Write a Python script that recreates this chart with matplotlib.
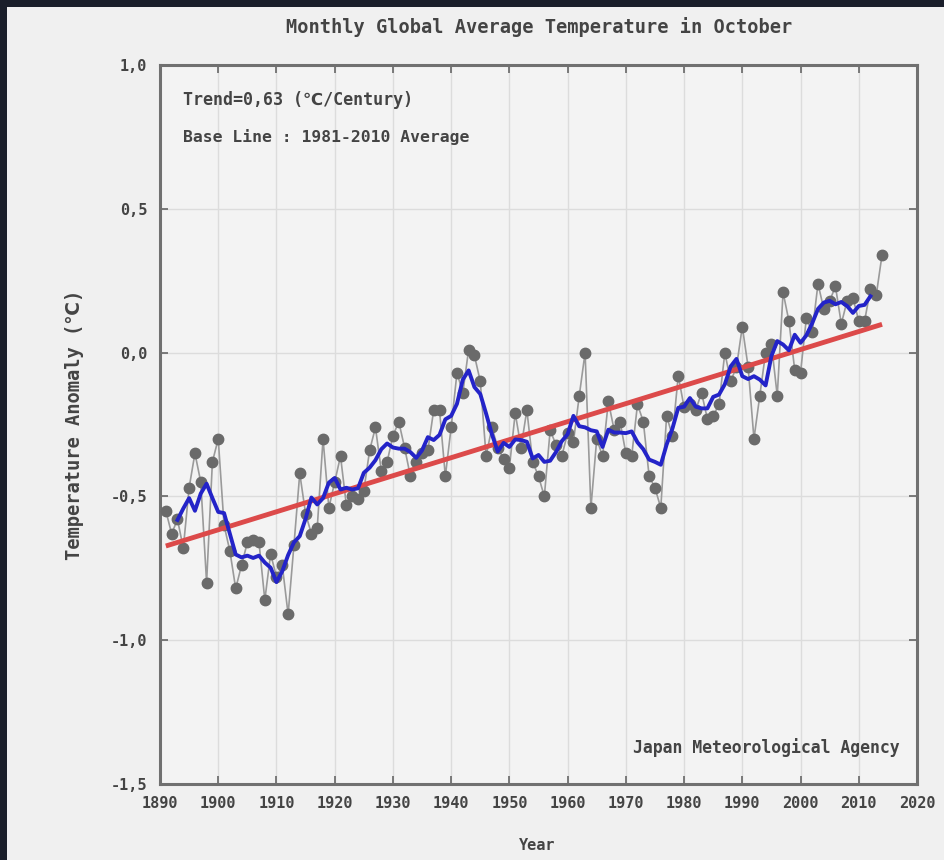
import numpy as np
import matplotlib
matplotlib.use("Agg")
import matplotlib.pyplot as plt
from matplotlib.patches import Rectangle

# ---- data ----
start_year = 1891
anomaly = [
    -0.55, -0.63, -0.58, -0.68, -0.47, -0.35, -0.45, -0.80, -0.38, -0.30,  # 1891-1900
    -0.60, -0.69, -0.82, -0.74, -0.66, -0.65, -0.66, -0.86, -0.70, -0.78,  # 1901-1910
    -0.74, -0.91, -0.67, -0.42, -0.56, -0.63, -0.61, -0.30, -0.54, -0.45,  # 1911-1920
    -0.36, -0.53, -0.50, -0.51, -0.48, -0.34, -0.26, -0.41, -0.38, -0.29,  # 1921-1930
    -0.24, -0.33, -0.43, -0.38, -0.35, -0.34, -0.20, -0.20, -0.43, -0.26,  # 1931-1940
    -0.07, -0.14, 0.01, -0.01, -0.10, -0.36, -0.26, -0.33, -0.37, -0.40,   # 1941-1950
    -0.21, -0.33, -0.20, -0.38, -0.43, -0.50, -0.27, -0.32, -0.36, -0.28,  # 1951-1960
    -0.31, -0.15, 0.00, -0.54, -0.30, -0.36, -0.17, -0.27, -0.24, -0.35,   # 1961-1970
    -0.36, -0.18, -0.24, -0.43, -0.47, -0.54, -0.22, -0.29, -0.08, -0.19,  # 1971-1980
    -0.18, -0.20, -0.14, -0.23, -0.22, -0.18, 0.00, -0.10, -0.05, 0.09,    # 1981-1990
    -0.05, -0.30, -0.15, 0.00, 0.03, -0.15, 0.21, 0.11, -0.06, -0.07,      # 1991-2000
    0.12, 0.07, 0.24, 0.15, 0.18, 0.23, 0.10, 0.18, 0.19, 0.11,            # 2001-2010
    0.11, 0.22, 0.20, 0.34,                                                # 2011-2014
]
years = np.arange(start_year, start_year + len(anomaly))
values = np.array(anomaly)

x_ticks = [1890, 1900, 1910, 1920, 1930, 1940, 1950, 1960, 1970, 1980, 1990, 2000, 2010, 2020]
y_ticks = [1.0, 0.5, 0.0, -0.5, -1.0, -1.5]
y_tick_labels = ["1,0", "0,5", "0,0", "-0,5", "-1,0", "-1,5"]

title = "Monthly Global Average Temperature in October"
trend_text = "Trend=0,63 (\u2103/Century)"
base_text = "Base Line : 1981-2010 Average"
source_text = "Japan Meteorological Agency"
y_label = "Temperature Anomaly (\u2103)"
x_label = "Year"

# derived series
window = 5
run_mean = np.convolve(values, np.ones(window) / window, mode="valid")
run_years = years[window // 2: len(years) - window // 2]
coef = np.polyfit(years, values, 1)
trend = np.polyval(coef, years)

# ---- drawing ----
W, H = 945, 860
fig = plt.figure(figsize=(W / 100, H / 100), dpi=100)
fig.patch.set_facecolor("#1b1f2b")
fig.add_artist(Rectangle((7 / W, 0), 1 - 7 / W, (H - 7) / H, transform=fig.transFigure,
                         facecolor="#f0f0f0", edgecolor="none", zorder=0))

fam = ["DejaVu Sans Mono", "DejaVu Sans"]
tc = "#444444"

ax = fig.add_axes([160 / W, 1 - 784 / H, (917 - 160) / W, (784 - 65) / H])
ax.set_facecolor("#f3f3f3")
ax.set_xlim(1890, 2020)
ax.set_ylim(-1.5, 1.0)

ax.set_xticks(x_ticks)
ax.set_xticklabels([str(t) for t in x_ticks], family=fam, fontsize=11, color=tc, fontweight="bold")
ax.set_yticks(y_ticks)
ax.set_yticklabels(y_tick_labels, family=fam, fontsize=11, color=tc, fontweight="bold")
ax.tick_params(direction="in", length=6, width=1.2, color="#666666",
               top=True, right=True, pad=9)
ax.grid(True, color="#dcdcdc", linewidth=1.0)
ax.set_axisbelow(True)
for s in ax.spines.values():
    s.set_color("#707070")
    s.set_linewidth(2.2)

ax.plot(years, values, color="#9a9a9a", linewidth=1.2, zorder=2)
ax.plot(years, values, linestyle="none", marker="o", markersize=7.5,
        markerfacecolor="#6a6a6a", markeredgecolor="#6a6a6a", zorder=3)
ax.plot(years, trend, color="#dc4a4a", linewidth=3.5, zorder=4, solid_capstyle="butt")
ax.plot(run_years, run_mean, color="#2323c8", linewidth=2.8, zorder=5)

ax.text(183 / W, 1 - 100 / H, trend_text, transform=fig.transFigure, family=fam,
        fontsize=12, color=tc, fontweight="bold", va="center", ha="left")
ax.text(183 / W, 1 - 137 / H, base_text, transform=fig.transFigure, family=fam,
        fontsize=11.8, color=tc, fontweight="bold", va="center", ha="left")
ax.text(900 / W, 1 - 748 / H, source_text, transform=fig.transFigure, family=fam,
        fontsize=11.9, color=tc, fontweight="bold", va="center", ha="right")

fig.text(539 / W, 1 - 27 / H, title, family=fam, fontsize=13.4, color=tc,
         fontweight="bold", ha="center", va="center")
fig.text(75 / W, 1 - 425 / H, y_label, family=fam, fontsize=13.5, color=tc,
         fontweight="bold", ha="center", va="center", rotation=90)
fig.text(537 / W, 1 - 845 / H, x_label, family=fam, fontsize=11, color=tc,
         fontweight="bold", ha="center", va="center")

fig.savefig("out.png", dpi=100, facecolor=fig.get_facecolor())
